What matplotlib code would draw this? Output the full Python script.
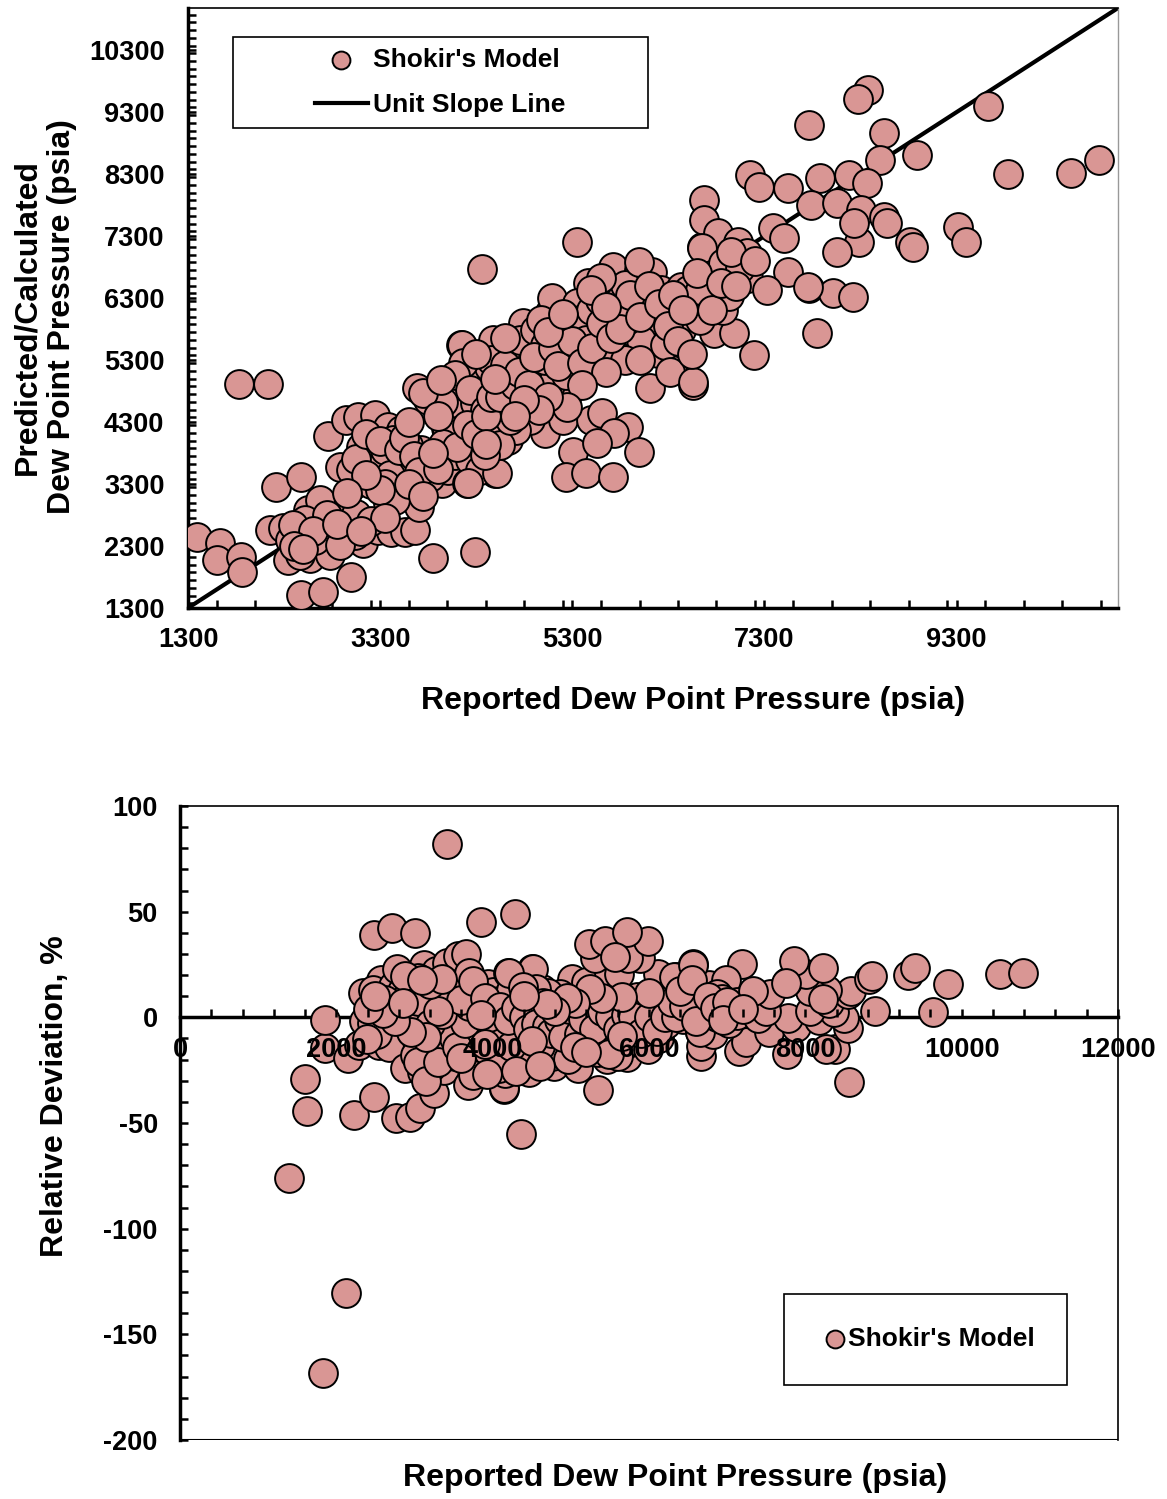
import matplotlib
matplotlib.use("Agg")
import matplotlib.pyplot as plt
from matplotlib.patches import Rectangle
from matplotlib.ticker import MultipleLocator, FixedLocator
import numpy as np

plt.rcParams['font.family'] = ['Liberation Sans', 'DejaVu Sans']
plt.rcParams['font.weight'] = 'bold'
plt.rcParams['axes.unicode_minus'] = False

# reported vs predicted dew point pressure (psia)
pairs = [
    (1390, 2450), (1630, 2350), (1600, 2070), (1850, 2120), (1860, 1880), (1830, 4910), (2130, 4910),
    (2480, 1510), (2710, 1560), (3000, 1800), (2220, 3250), (2480, 3410), (3850, 2110), (4290, 2200),
    (2150, 2560), (2290, 2590), (2360, 2400), (2450, 2510), (2550, 2880), (2570, 2110), (2340, 2070),
    (2470, 2150), (2650, 2720), (2730, 2320), (2840, 2480), (2910, 2850), (3000, 2670), (3120, 2350),
    (3280, 2560), (3410, 2530), (3560, 2530), (3660, 2560), (2780, 2150), (2930, 2590), (3040, 2480),
    (2670, 3040), (2520, 2720), (2390, 2640), (2620, 2400), (2880, 2320), (3050, 2820),
    (2760, 4070), (2940, 4330), (3070, 4380), (3250, 4410), (3380, 4220), (3520, 4170), (2880, 3570),
    (3000, 3530), (3100, 3900), (3210, 3960), (3310, 3560), (3460, 3690), (3510, 3200), (3380, 2990),
    (3660, 3150), (3700, 2930), (3800, 3480), (3940, 3320), (3870, 3640), (4010, 3530), (4200, 3320),
    (4500, 3480), (3730, 3850), (4140, 5540), (4190, 5190), (3680, 4850), (3800, 4650), (3960, 4650),
    (3990, 4200), (4240, 3980), (4350, 4620), (4500, 4280), (4600, 4900), (4460, 5380), (4770, 5410),
    (4630, 4010), (4040, 4820), (4320, 4930), (4080, 4450), (4430, 5190),
    (3140, 3770), (3250, 3530), (3350, 3850), (3430, 4010), (3590, 3930), (3610, 3610), (3770, 3360),
    (4080, 3770), (4240, 3690), (4340, 3530), (4130, 4170), (4290, 4330), (4550, 4490), (4650, 4650),
    (4760, 4820), (4860, 5060), (4970, 5220),
    (4360, 6770), (5350, 7200), (4150, 5540), (4470, 5620), (4790, 5900), (5070, 6070), (5250, 5830),
    (5570, 5750), (5720, 6800), (5730, 6430), (5990, 6750), (6130, 6720), (6220, 6430), (6430, 6480),
    (6670, 6430), (6650, 7120), (6770, 7350), (6110, 5780), (6430, 5780), (6770, 5740), (6190, 5410),
    (6340, 5140), (6110, 4850), (6560, 4900), (5750, 5380), (5350, 5410), (4830, 5410), (4620, 5350),
    (4450, 5300), (4160, 5250), (4580, 4860), (4950, 5090), (5250, 4740), (5540, 5250), (4290, 4610),
    (3950, 4620), (3750, 4770), (4480, 4280), (4000, 4170), (4520, 3480), (4210, 3320), (3820, 3410),
    (5020, 4120), (5200, 4330), (5490, 4330), (5610, 4450), (5880, 4220), (5730, 4120), (5990, 3820),
    (5310, 3820), (5230, 3410), (5440, 3480), (5720, 3410), (5560, 3960), (5090, 6300), (5460, 6540),
    (5350, 6220),
    (4760, 5620), (4910, 5780), (5020, 5540), (5180, 5700), (5380, 5950), (5490, 6110), (5590, 6270),
    (5800, 6270), (5900, 6030), (5850, 6510), (6060, 6270), (6270, 6110), (6530, 6190), (6630, 5950),
    (4970, 5950), (5120, 5380), (4910, 4820), (4760, 4570), (5070, 4900), (4860, 4330), (4710, 4170),
    (4550, 3930), (4390, 3770), (5230, 5060), (5440, 5620), (5640, 5540), (6010, 5620), (6270, 5540),
    (5850, 5300), (4080, 5060), (3930, 4980), (4600, 5220), (4240, 4820), (4390, 4490), (4650, 4330),
    (4860, 5220), (5020, 5300),
    (8380, 9650), (8270, 9510), (7760, 9090), (8540, 8960), (8500, 8530), (8890, 8610), (7150, 8280),
    (7240, 8090), (7540, 8070), (7880, 8240), (8180, 8280), (8370, 8160), (7780, 7800), (8060, 7830),
    (8300, 7720), (8540, 7610), (8580, 7510), (8280, 7200), (8060, 7040), (8230, 7510), (8820, 7200),
    (8850, 7120), (6670, 7880), (6670, 7560), (6820, 7350), (7020, 7200), (7120, 7030), (6650, 7110),
    (6870, 6860), (7390, 7430), (7500, 7270), (7550, 6720), (7760, 6460), (8010, 6380), (8220, 6320),
    (7850, 5740), (7190, 5380), (6980, 5740), (7130, 6620), (7330, 6430), (6870, 6110), (5990, 6880),
    (6320, 5110), (6560, 4950), (5870, 5950), (6500, 6430), (6630, 6430), (6930, 6330), (7050, 6780),
    (5600, 6620), (5490, 6430),
    (9630, 9400), (9830, 8300), (10490, 8320), (10780, 8530), (9310, 7450), (9400, 7200), (7750, 6480),
    # crowded parts of the band
    (3050, 3700), (3150, 4100), (3300, 4000), (3400, 3450), (3500, 3850), (3550, 4050), (3650, 3750),
    (3700, 3500), (3200, 3300), (3350, 3300), (3450, 3050), (3600, 3300), (3750, 3100), (3900, 3550),
    (3950, 3950), (4100, 3900), (4200, 4250), (3600, 4300), (3900, 4400), (4300, 4100), (4400, 4400),
    (4450, 4700), (4550, 4700), (4700, 4900), (4750, 5100), (4850, 4900), (4900, 5350), (5100, 5500),
    (5150, 5200), (5300, 5600), (5400, 5250), (5500, 5500), (5600, 5900), (5700, 5650), (5800, 5800),
    (5900, 6350), (6000, 6000), (6100, 6500), (6200, 6200), (6350, 6350), (6300, 5850), (6450, 6100),
    (6600, 6700), (6000, 5300), (5650, 5100), (5400, 4900), (5250, 4550), (5050, 4700), (4950, 4500),
    (4800, 4650), (4500, 5000), (4300, 5400), (4600, 5650), (5050, 5750), (5200, 6050), (5650, 6150),
    (6400, 5600), (6550, 5400), (6750, 6100), (6850, 6550), (7000, 6500), (6950, 7050), (7200, 6900),
    (4700, 4400), (4400, 3950), (3850, 3800), (3300, 3200), (3150, 3450), (2950, 3150), (2750, 2800),
    (2600, 2550), (2400, 2300), (2500, 2250), (2850, 2650), (3200, 2700), (3350, 2750), (3100, 2550),
    # outside the cross plot range, only seen in the deviation plot
    (3410, 610), (8560, 11180),
]
reported = np.array([p[0] for p in pairs], dtype=float)
predicted = np.array([p[1] for p in pairs], dtype=float)
rel_dev = (reported - predicted) / reported * 100

top_xticks = [1300, 3300, 5300, 7300, 9300]
top_yticks = [1300, 2300, 3300, 4300, 5300, 6300, 7300, 8300, 9300, 10300]
bot_xticks = [0, 2000, 4000, 6000, 8000, 10000, 12000]
bot_yticks = [100, 50, 0, -50, -100, -150, -200]
lim_lo, lim_hi = 1300, 10980

face = '#D99694'
tick_fs = 19.5
label_fs = 23
leg_fs = 19

fig = plt.figure(figsize=(11.67, 14.99), dpi=100)

# ---- top: cross plot
ax1 = fig.add_axes([188/1167, 1-608/1499, 930/1167, 600/1499])
ax1.plot([lim_lo, lim_hi], [lim_lo, lim_hi], color='black', lw=3, zorder=2, label='Unit Slope Line')
inside = (predicted >= lim_lo) & (predicted <= lim_hi)
ax1.scatter(reported[inside], predicted[inside], s=430, c=face, edgecolors='black', linewidths=1.4,
            zorder=3, label="Shokir's Model")
ax1.set_xlim(lim_lo, lim_hi)
ax1.set_ylim(lim_lo, lim_hi)
ax1.xaxis.set_major_locator(FixedLocator(top_xticks))
ax1.xaxis.set_minor_locator(MultipleLocator(400))
ax1.yaxis.set_major_locator(FixedLocator(top_yticks))
ax1.yaxis.set_minor_locator(MultipleLocator(125))
ax1.tick_params(which='both', direction='in', length=6, width=1.8, labelsize=tick_fs)
ax1.tick_params(axis='x', pad=14)
ax1.tick_params(axis='y', pad=17)
for side in ['left', 'bottom']:
    ax1.spines[side].set_linewidth(2.5)
ax1.spines['top'].set_linewidth(1.2)
ax1.spines['right'].set_linewidth(1.0)
ax1.spines['right'].set_color('#999999')

box1 = Rectangle((45/930, 1-(128-8)/600), 415/930, 91/600, transform=ax1.transAxes,
                 fill=False, edgecolor='black', lw=1.2, zorder=5)
ax1.add_patch(box1)
h, l = ax1.get_legend_handles_labels()
ax1.legend([h[1], h[0]], [l[1], l[0]], loc='center', bbox_to_anchor=(252/930, 1-(82.5-8)/600),
           frameon=False, fontsize=leg_fs, markerscale=0.62, handlelength=2.0,
           handletextpad=0.2, labelspacing=0.78)

fig.text(693/1167, 1-701/1499, 'Reported Dew Point Pressure (psia)', ha='center', va='center',
         fontsize=label_fs, fontweight='bold')
fig.text(45/1167, 1-317/1499, 'Predicted/Calculated\nDew Point Pressure (psia)', rotation=90,
         ha='center', va='center', multialignment='center', fontsize=label_fs, fontweight='bold',
         linespacing=1.2)

# ---- bottom: relative deviation
ax2 = fig.add_axes([180/1167, 1-1440/1499, 938/1167, 634/1499])
ax2.scatter(reported, rel_dev, s=430, c=face, edgecolors='black', linewidths=1.4, zorder=3,
            label="Shokir's Model")
ax2.set_xlim(0, 12000)
ax2.set_ylim(-200, 100)
ax2.xaxis.set_major_locator(FixedLocator(bot_xticks))
ax2.xaxis.set_minor_locator(MultipleLocator(400))
ax2.yaxis.set_major_locator(FixedLocator(bot_yticks))
ax2.yaxis.set_minor_locator(MultipleLocator(10))
ax2.spines['bottom'].set_position(('data', 0))
ax2.spines['bottom'].set_linewidth(2.5)
ax2.spines['left'].set_linewidth(2.5)
ax2.spines['top'].set_linewidth(1.2)
ax2.spines['right'].set_linewidth(1.2)
ax2.axhline(-200, color='black', lw=1.5, zorder=2)
ax2.tick_params(which='both', direction='in', length=6, width=1.8, labelsize=tick_fs)
ax2.tick_params(axis='x', pad=14)
ax2.tick_params(axis='y', pad=16)
ax2.xaxis.set_zorder(4)

box2 = Rectangle(((784-180)/938, (1440-1385)/634), 283/938, 91/634, transform=ax2.transAxes,
                 fill=False, edgecolor='black', lw=1.2, zorder=5)
ax2.add_patch(box2)
ax2.legend(loc='center', bbox_to_anchor=((930-180)/938, (1440-1339)/634), frameon=False,
           fontsize=leg_fs, markerscale=0.62, handlelength=0.8, handletextpad=0.1)

fig.text(675/1167, 1-1478/1499, 'Reported Dew Point Pressure (psia)', ha='center', va='center',
         fontsize=label_fs, fontweight='bold')
fig.text(55/1167, 1-1096/1499, 'Relative Deviation, %', rotation=90, ha='center', va='center',
         fontsize=label_fs, fontweight='bold')

fig.savefig('out.png', dpi=100)
